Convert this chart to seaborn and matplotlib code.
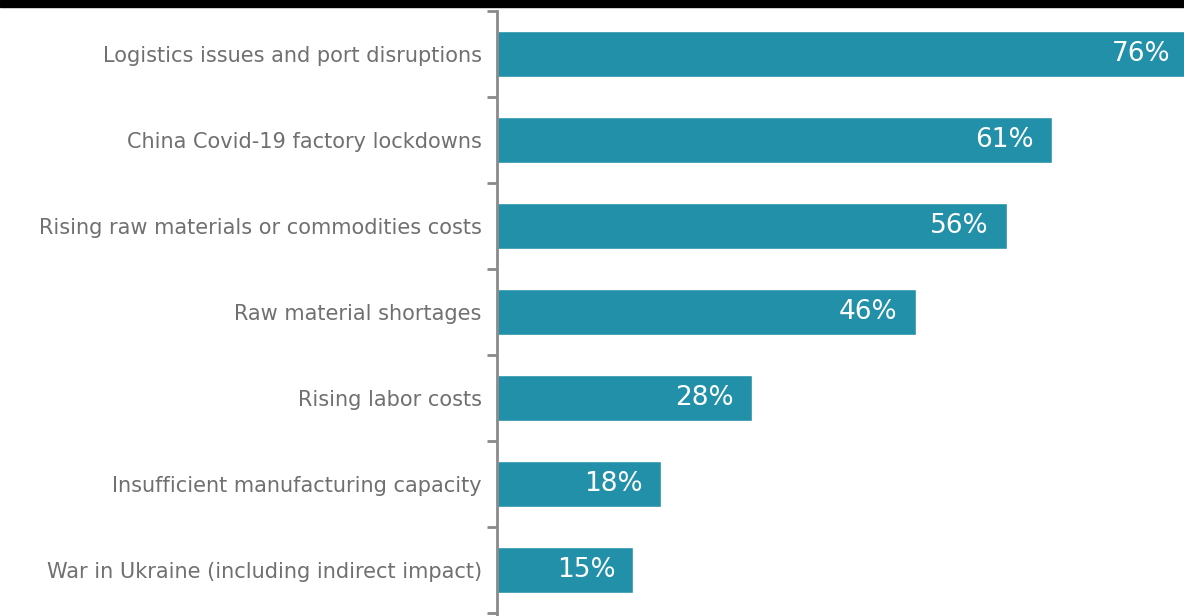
import matplotlib
matplotlib.use("Agg")
import matplotlib.pyplot as plt
import seaborn as sns
import pandas as pd
from matplotlib.patches import Rectangle

categories = [
    "Logistics issues and port disruptions",
    "China Covid-19 factory lockdowns",
    "Rising raw materials or commodities costs",
    "Raw material shortages",
    "Rising labor costs",
    "Insufficient manufacturing capacity",
    "War in Ukraine (including indirect impact)",
]
values = [76, 61, 56, 46, 28, 18, 15]
value_labels = ["76%", "61%", "56%", "46%", "28%", "18%", "15%"]

df = pd.DataFrame({"category": categories, "value": values})

sns.set_style("white")
plt.rcParams['font.family'] = ['DejaVu Sans']

fig = plt.figure(figsize=(11.84, 6.16), dpi=100)
ax = fig.add_axes([497 / 1184, 1 - 613 / 616, 1 - 497 / 1184, (613 - 11) / 616])

sns.barplot(data=df, x="value", y="category", orient="h", color="#2190A8",
            saturation=1, width=0.54, ax=ax)

ax.set_xlim(0, 75.5)
ax.set_ylim(6.5, -0.5)
ax.set_xlabel("")
ax.set_ylabel("")
ax.set_xticks([])
for s in ["top", "right", "bottom"]:
    ax.spines[s].set_visible(False)
ax.spines["left"].set_color("#8a8a8a")
ax.spines["left"].set_linewidth(2)
ax.spines["left"].set_bounds(-0.5, 6.6)

ax.set_yticks(range(len(categories)))
ax.set_yticklabels(categories, fontsize=15, color="#707070")
ax.tick_params(axis="y", which="major", left=False, length=0, pad=11)

ax.set_yticks([i - 0.5 for i in range(len(categories) + 1)], minor=True)
ax.tick_params(axis="y", which="minor", left=True, length=7, width=2,
               color="#8a8a8a", direction="out")

for i, (v, lab) in enumerate(zip(values, value_labels)):
    ax.annotate(lab, xy=(v, i), xytext=(-13, 0), textcoords="offset points",
                ha="right", va="center", color="white", fontsize=19,
                fontweight="medium", annotation_clip=False)

fig.add_artist(Rectangle((0, 1 - 7 / 616), 1, 7 / 616, transform=fig.transFigure,
                         color="black", clip_on=False))

fig.savefig("out.png", dpi=100)
